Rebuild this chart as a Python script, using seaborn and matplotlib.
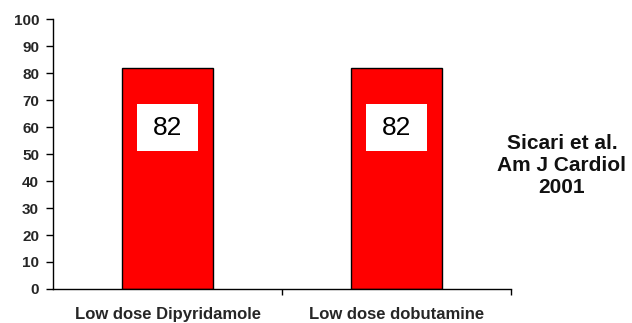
import matplotlib
matplotlib.use("Agg")
import matplotlib.pyplot as plt
import seaborn as sns
import pandas as pd
from matplotlib.patches import Rectangle

categories = ["Low dose Dipyridamole", "Low dose dobutamine"]
values = [82, 82]
value_labels = ["82", "82"]
yticks = [0, 10, 20, 30, 40, 50, 60, 70, 80, 90, 100]
note = "Sicari et al.\nAm J Cardiol\n2001"

sns.set_theme(style="white")
plt.rcParams['font.family'] = ['Liberation Sans', 'DejaVu Sans']

df = pd.DataFrame({"test": categories, "value": values})

fig = plt.figure(figsize=(6.32, 3.23), dpi=100)
ax = fig.add_axes([0.0839, 0.1053, 0.8085 - 0.0839, 0.941 - 0.1053])

sns.barplot(data=df, x="test", y="value", color="#ff0000", width=0.4,
            edgecolor="black", linewidth=1.0, saturation=1, ax=ax)

ax.set_xlim(-0.5, 1.5)
ax.set_ylim(0, 100)
ax.set_yticks(yticks)
ax.set_yticklabels([str(t) for t in yticks], fontsize=11, fontweight="bold")
ax.set_xlabel("")
ax.set_ylabel("")
ax.set_xticks(range(len(categories)))
ax.set_xticklabels(categories, fontsize=12, fontweight="bold")
ax.tick_params(axis="x", which="major", bottom=True, length=0, pad=13)
ax.set_xticks([0.5, 1.5], minor=True)
ax.tick_params(axis="x", which="minor", bottom=True, length=4, width=1,
               color="black", direction="out")
ax.tick_params(axis="y", left=True, length=5, width=1, color="black",
               direction="out", pad=5)

for s in ["top", "right"]:
    ax.spines[s].set_visible(False)
for s in ["left", "bottom"]:
    ax.spines[s].set_color("black")
    ax.spines[s].set_linewidth(1.0)

# white label boxes inside bars
for patch, lab in zip(ax.patches, value_labels):
    bx = patch.get_x() + patch.get_width() * 0.17
    bw = patch.get_width() * 0.66
    ax.add_patch(Rectangle((bx, 51), bw, 17.5, facecolor="white", edgecolor="none", zorder=3))
    ax.text(patch.get_x() + patch.get_width() / 2, 59.8, lab, ha="center", va="center",
            fontsize=19, color="black", zorder=4)

fig.text(0.889, 0.489, note, ha="center", va="center", fontsize=15,
         fontweight="bold", color="#111111", linespacing=1.2)

fig.savefig("out.png", dpi=100)
